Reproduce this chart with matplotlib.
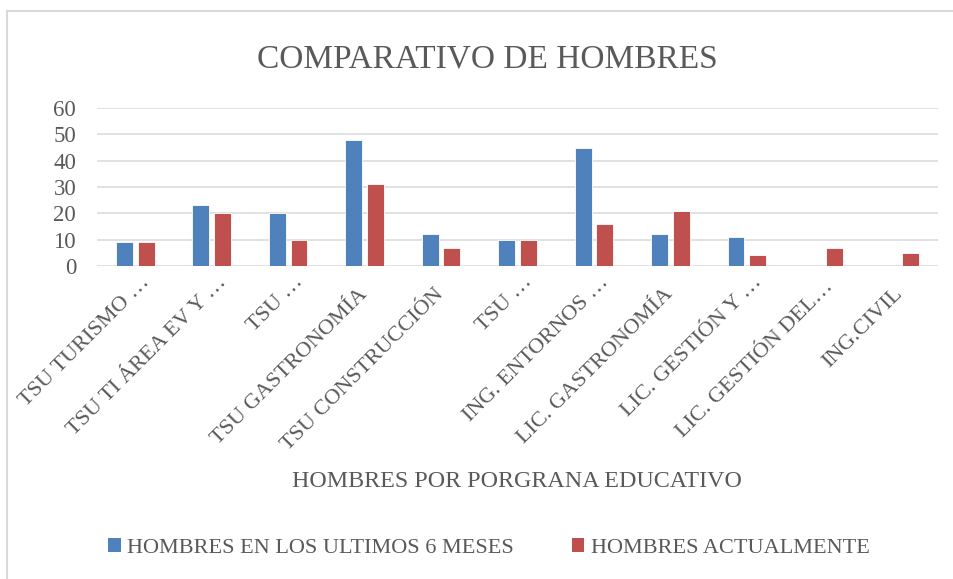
import numpy as np
import matplotlib
matplotlib.use("Agg")
import matplotlib.pyplot as plt
from matplotlib.patches import Patch
from matplotlib.lines import Line2D
from matplotlib.transforms import ScaledTranslation, blended_transform_factory

plt.rcParams['font.family'] = ['Liberation Serif', 'DejaVu Serif']

# --- data -------------------------------------------------------------
programas = [
    "TSU TURISMO …",
    "TSU TI ÁREA EV Y …",
    "TSU …",
    "TSU GASTRONOMÍA",
    "TSU CONSTRUCCIÓN",
    "TSU …",
    "ING. ENTORNOS …",
    "LIC. GASTRONOMÍA",
    "LIC. GESTIÓN Y …",
    "LIC. GESTIÓN DEL…",
    "ING.CIVIL",
]
ultimos_6_meses = [9, 23, 20, 48, 12, 10, 45, 12, 11, 0, 0]
actualmente = [9, 20, 10, 31, 7, 10, 16, 21, 4, 7, 5]
serie_nombres = ["HOMBRES EN LOS ULTIMOS 6 MESES", "HOMBRES ACTUALMENTE"]
y_ticks = [0, 10, 20, 30, 40, 50, 60]

titulo = "COMPARATIVO DE HOMBRES"
eje_x = "HOMBRES POR PORGRANA EDUCATIVO"

# --- style ------------------------------------------------------------
AZUL = "#4F81BD"
ROJO = "#C0504D"
TEXTO = "#595959"
GRIS = "#D9D9D9"

W, H = 954, 579
fig = plt.figure(figsize=(W / 100, H / 100), dpi=100)

left, right, top, bottom = 97, 938, 108, 266
ax = fig.add_axes([left / W, 1 - bottom / H, (right - left) / W, (bottom - top) / H])

x = np.arange(len(programas))
ancho = 0.222
desp = 0.142

def lw_list(vals):
    return [0.6 if v else 0 for v in vals]

ax.bar(x - desp, ultimos_6_meses, ancho, color=AZUL, edgecolor="white",
       linewidth=lw_list(ultimos_6_meses), zorder=3)
ax.bar(x + desp, actualmente, ancho, color=ROJO, edgecolor="white",
       linewidth=lw_list(actualmente), zorder=3)

ax.set_xlim(-0.5, len(programas) - 0.5)
ax.set_ylim(0, 60)
ax.set_yticks(y_ticks)
ax.set_yticklabels([str(t) for t in y_ticks], fontsize=16.5, color=TEXTO)
ax.tick_params(axis="y", length=0, pad=15)
ax.set_xticks([])
for s in ax.spines.values():
    s.set_visible(False)
ax.grid(axis="y", color=GRIS, linewidth=1.1, zorder=0)
ax.set_axisbelow(True)

# rotated category labels, right end anchored under each category
trans_base = blended_transform_factory(ax.transData, ax.transAxes)
for i, lab in enumerate(programas):
    if lab.endswith(" …"):
        extra = 17
    elif lab.endswith("…"):
        extra = 10
    else:
        extra = 0
    dx = 0 + extra * 0.707
    dy = -25.5 + extra * 0.707
    tr = trans_base + ScaledTranslation(dx / 100, dy / 100, fig.dpi_scale_trans)
    ax.text(i, 0, lab, transform=tr, rotation=45, rotation_mode="anchor",
            ha="right", va="center", fontsize=16, color=TEXTO)

# titles
fig.text(487 / W, 1 - 67 / H, titulo, ha="center", va="baseline",
         fontsize=24, color=TEXTO)
fig.text(516.5 / W, 1 - 487 / H, eje_x, ha="center", va="baseline",
         fontsize=17.3, color=TEXTO)

# legend
handles = [Patch(facecolor=AZUL, edgecolor="none"),
           Patch(facecolor=ROJO, edgecolor="none")]
leg = fig.legend(handles, serie_nombres, loc="center",
                 bbox_to_anchor=(489 / W, 1 - 548 / H), ncol=2, frameon=False,
                 fontsize=16, handlelength=0.55, handleheight=0.55,
                 handletextpad=0.3, columnspacing=2.6, borderpad=0,
                 borderaxespad=0)
for t in leg.get_texts():
    t.set_color(TEXTO)

# chart-area border (left and top edges)
fig.add_artist(Line2D([7 / W, 7 / W], [0, 1 - 10.5 / H], transform=fig.transFigure,
                      color=GRIS, linewidth=1.5))
fig.add_artist(Line2D([7 / W, 1], [1 - 10.5 / H, 1 - 10.5 / H], transform=fig.transFigure,
                      color=GRIS, linewidth=1.5))

fig.savefig("out.png", dpi=100, facecolor="white")
